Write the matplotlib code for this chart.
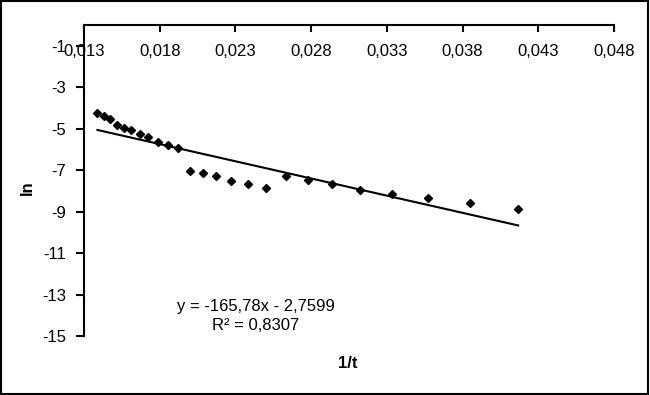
import numpy as np
import matplotlib
matplotlib.use("Agg")
import matplotlib.pyplot as plt
from matplotlib.ticker import FuncFormatter, FixedLocator
from matplotlib.patches import Rectangle

plt.rcParams['font.family'] = ['Liberation Sans', 'DejaVu Sans']

# data (x = 1/t, y = ln)
inv_t = [0.01389, 0.01429, 0.01471, 0.01515, 0.01563, 0.01613, 0.01667, 0.01724,
         0.01786, 0.01852, 0.01923, 0.02000, 0.02083, 0.02174, 0.02273, 0.02381,
         0.02500, 0.02632, 0.02778, 0.02941, 0.03125, 0.03333, 0.03571, 0.03846,
         0.04167]
ln_vals = [-4.25, -4.40, -4.54, -4.81, -4.98, -5.07, -5.27, -5.41,
           -5.65, -5.80, -5.94, -7.03, -7.13, -7.30, -7.54, -7.69,
           -7.85, -7.29, -7.48, -7.67, -7.94, -8.17, -8.35, -8.59,
           -8.88]
x_ticks = [0.013, 0.018, 0.023, 0.028, 0.033, 0.038, 0.043, 0.048]
y_ticks = [-1, -3, -5, -7, -9, -11, -13, -15]
slope = -165.78
intercept = -2.7599
eq_text = "y = -165,78x - 2,7599"
r2_text = "R\u00b2 = 0,8307"

fig = plt.figure(figsize=(6.5, 3.95), dpi=100)
fig.patches.append(Rectangle((0.002, 0.003), 0.995, 0.994, transform=fig.transFigure,
                             fill=False, edgecolor='black', linewidth=1.5))
ax = fig.add_axes([84/650, 1-336/395, 530/650, 311/395])

x = np.array(inv_t)
y = np.array(ln_vals)
ax.plot(x, y, linestyle='none', marker='D', markersize=4, color='black', zorder=3)
xl = np.array([x.min(), x.max()])
ax.plot(xl, slope * xl + intercept, color='black', linewidth=1.5)

ax.set_xlim(0.013, 0.048)
ax.set_ylim(-15, 0)
ax.xaxis.set_major_locator(FixedLocator(x_ticks))
ax.yaxis.set_major_locator(FixedLocator(y_ticks))
ax.xaxis.set_major_formatter(FuncFormatter(lambda v, p: f"{v:.3f}".replace('.', ',')))
ax.yaxis.set_major_formatter(FuncFormatter(lambda v, p: f"{int(round(v))}"))

ax.xaxis.tick_top()
ax.spines['right'].set_visible(False)
ax.spines['bottom'].set_visible(False)
ax.spines['top'].set_linewidth(1.5)
ax.spines['left'].set_linewidth(1.5)
ax.tick_params(axis='x', direction='in', length=5, width=1.5, pad=-14, labelsize=12)
ax.tick_params(axis='y', direction='out', length=6, width=1.5, pad=7, labelsize=12)
for lab in ax.get_xticklabels():
    lab.set_verticalalignment('top')

fig.text(27/650, 1-188/395, "ln", rotation=90, ha='center', va='center',
         fontsize=12, fontweight='bold')
fig.text(348/650, 1-364/395, "1/t", ha='center', va='center',
         fontsize=12, fontweight='bold')
fig.text(256/650, 1-307/395, eq_text, ha='center', va='center', fontsize=12)
fig.text(256/650, 1-326/395, r2_text, ha='center', va='center', fontsize=12)

fig.savefig("out.png", dpi=100)
